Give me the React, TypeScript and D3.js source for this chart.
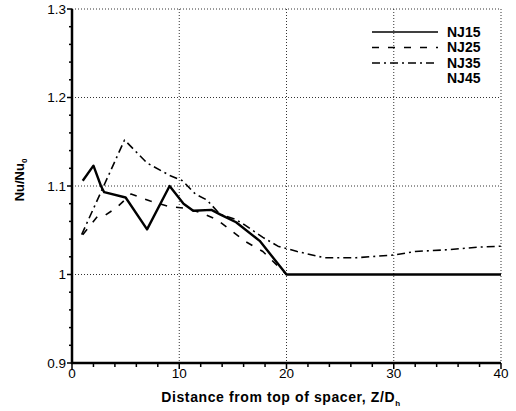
import React from 'react';
import * as d3 from 'd3';

// values
const nj15X = [1, 2, 2.7, 3, 5, 7, 9.1, 10.4, 11.3, 13, 13.8, 15.3, 17.5, 20, 25, 30, 35, 40];
const nj15Y = [1.106, 1.123, 1.1, 1.093, 1.087, 1.051, 1.1, 1.08, 1.072, 1.073, 1.068, 1.059, 1.038, 1.0, 1.0, 1.0, 1.0, 1.0];

const nj25X = [1, 2.4, 3.1, 4.2, 5.5, 7.3, 9, 10.5, 12, 13.5, 14.7, 16.2, 17.8, 20];
const nj25Y = [1.045, 1.066, 1.067, 1.076, 1.091, 1.083, 1.077, 1.075, 1.07, 1.062, 1.051, 1.037, 1.026, 1.0];

const nj35X = [0.9, 4.9, 7, 9.1, 10.3, 11.5, 12.6, 13.8, 15.3, 16.1, 17.8, 19.2, 21, 23.5, 26.5, 30, 32, 35, 38, 40];
const nj35Y = [1.045, 1.152, 1.126, 1.112, 1.106, 1.091, 1.084, 1.068, 1.062, 1.056, 1.042, 1.032, 1.026, 1.019, 1.019, 1.022, 1.026, 1.028, 1.031, 1.032];

const seriesNames = ['NJ15', 'NJ25', 'NJ35', 'NJ45'];
const xTicks = [0, 10, 20, 30, 40];
const yTicks = [0.9, 1.0, 1.1, 1.2, 1.3];
const yTickLabels = ['0.9', '1', '1.1', '1.2', '1.3'];

const width = 516;
const height = 411;
const margin = { top: 9, right: 15, bottom: 48, left: 72 };
const font = 'Arial, "Liberation Sans", sans-serif';

const App = () => {
  const innerWidth = width - margin.left - margin.right;
  const innerHeight = height - margin.top - margin.bottom;

  const xScale = d3.scaleLinear().domain([0, 40]).range([0, innerWidth]);
  const yScale = d3.scaleLinear().domain([0.9, 1.3]).range([innerHeight, 0]);

  const line = d3.line<[number, number]>()
    .x(d => xScale(d[0]))
    .y(d => yScale(d[1]));

  const zip = (xs: number[], ys: number[]) => xs.map((x, i) => [x, ys[i]] as [number, number]);

  const series = [
    { pts: zip(nj15X, nj15Y), dash: null, w: 2.4 },
    { pts: zip(nj25X, nj25Y), dash: '7,9', w: 1.6 },
    { pts: zip(nj35X, nj35Y), dash: '8,4,2,4', w: 1.6 },
  ];

  const xMinor = d3.range(0, 40.01, 2);
  const yMinor = d3.range(0.9, 1.3001, 0.02);

  return (
    <svg width={width} height={height} style={{ position: 'absolute', left: 0, top: 0, background: '#fff' }}>
      <g transform={`translate(${margin.left}, ${margin.top})`}>
        {/* grid */}
        {xTicks.slice(1).map(t => (
          <line key={'gx' + t} x1={xScale(t)} x2={xScale(t)} y1={0} y2={innerHeight}
            stroke="#333" strokeWidth={1} strokeDasharray="1,2" />
        ))}
        {yTicks.slice(1).map(t => (
          <line key={'gy' + t} x1={0} x2={innerWidth} y1={yScale(t)} y2={yScale(t)}
            stroke="#333" strokeWidth={1} strokeDasharray="1,2" />
        ))}

        {/* series */}
        {series.map((s, i) => (
          <path key={i} d={line(s.pts) || ''} fill="none" stroke="#000"
            strokeWidth={s.w} strokeDasharray={s.dash || undefined} strokeLinejoin="round" />
        ))}

        {/* axes */}
        <line x1={0} x2={0} y1={0} y2={innerHeight + 1} stroke="#000" strokeWidth={2.5} />
        <line x1={-1} x2={innerWidth} y1={innerHeight} y2={innerHeight} stroke="#000" strokeWidth={2.5} />
        {yMinor.map((t, i) => (
          <line key={'ym' + i} x1={i % 5 === 0 ? -5 : -3} x2={0} y1={yScale(t)} y2={yScale(t)}
            stroke="#000" strokeWidth={1.5} />
        ))}
        {xMinor.map((t, i) => (
          <line key={'xm' + i} x1={xScale(t)} x2={xScale(t)} y1={innerHeight} y2={innerHeight + (i % 5 === 0 ? 6 : 4)}
            stroke="#000" strokeWidth={1.5} />
        ))}
        {yTicks.map((t, i) => (
          <text key={'yl' + t} x={-6} y={yScale(t)} dy="0.35em" textAnchor="end"
            fontFamily={font} fontSize={13.5} fill="#000">{yTickLabels[i]}</text>
        ))}
        {xTicks.map(t => (
          <text key={'xl' + t} x={xScale(t)} y={innerHeight + 15} textAnchor="middle"
            fontFamily={font} fontSize={13.5} fill="#000">{t}</text>
        ))}

        {/* legend */}
        {seriesNames.map((name, i) => {
          const y = 23 + i * 15.5;
          const s = series[i];
          return (
            <g key={name}>
              {s && (
                <line x1={300} x2={366} y1={y} y2={y} stroke="#000"
                  strokeWidth={1.6} strokeDasharray={s.dash || undefined} />
              )}
              <text x={375} y={y} dy="0.35em" fontFamily={font} fontWeight="bold"
                fontSize={14} fill="#000">{name}</text>
            </g>
          );
        })}
      </g>

      {/* axis titles */}
      <text x={281} y={402} textAnchor="middle" fontFamily={font} fontWeight="bold" fontSize={14}
        letterSpacing={0.6} fill="#000">
        Distance from top of spacer, Z/D<tspan fontSize={8} dy={4}>h</tspan>
      </text>
      <text transform="translate(24, 180) rotate(-90)" textAnchor="middle" fontFamily={font}
        fontWeight="bold" fontSize={13} fill="#000">
        Nu/Nu<tspan fontSize={8} dy={3}>0</tspan>
      </text>
    </svg>
  );
};

export default App;
